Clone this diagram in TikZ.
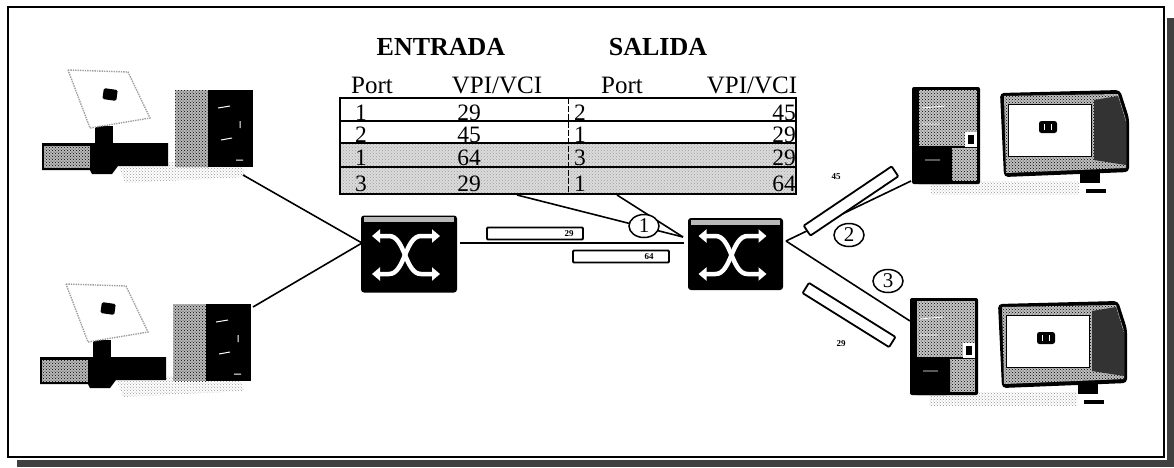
\documentclass[tikz,border=0pt]{standalone}
\usepackage{fontspec}
\setmainfont{Liberation Serif}
\usetikzlibrary{patterns,arrows.meta,shapes.geometric}

% flat-panel workstation with tower on its right
\newcommand{\flatpc}[2]{%
\begin{scope}[shift={(#1,#2)}]
  \fill[pattern=crosshatch dots, pattern color=gray!80] (118,164) -- (240,160) -- (246,177) -- (125,183) -- cycle;
  \fill[black] (42,143) -- (168,143) -- (168,166) -- (118,166) -- (112,174) -- (92,174) -- (90,170) -- (42,170) -- cycle;
  \fill[gray!55] (44,146) rectangle (90,168);
  \fill[pattern=crosshatch dots, pattern color=black] (44,146) rectangle (90,168);
  \fill[black] (95,126) rectangle (113,145);
  \filldraw[fill=white, draw=gray!75, line width=1.4, densely dotted] (68,70) -- (128,72) -- (150,118) -- (90,128) -- cycle;
  \fill[black, rotate around={-8:(110,95)}, rounded corners=1.5] (103,89) rectangle (117,100);
  \fill[gray!55] (175,90) rectangle (208,167);
  \fill[pattern=crosshatch dots, pattern color=black] (175,90) rectangle (208,167);
  \fill[black] (208,90) rectangle (253,167);
  \draw[white, line width=1] (218,108) -- (230,106) (221,140) -- (232,138) (236,160) -- (243,160) (240,121) -- (240,128);
\end{scope}}

% tower on the left, CRT monitor on the right
\newcommand{\crtpc}[2]{%
\begin{scope}[shift={(#1,#2)}]
  \fill[pattern=crosshatch dots, pattern color=gray!85] (931,181) rectangle (1079,194);
  \fill[black] (1080,170) rectangle (1100,183);
  \fill[black] (1086,189) rectangle (1106,193);
  % tower
  \fill[black, rounded corners=2] (912,87) rectangle (980,184);
  \fill[gray!45] (919,90) rectangle (977,146);
  \fill[pattern=crosshatch dots, pattern color=black] (919,90) rectangle (977,146);
  \fill[gray!45] (950,148) rectangle (977,181);
  \fill[pattern=crosshatch dots, pattern color=black] (950,148) rectangle (977,181);
  \fill[black, rounded corners=3] (916,146) rectangle (952,184);
  \fill[white] (965,132) rectangle (977,147);
  \fill[black] (968,135) rectangle (974,144);
  \draw[white, line width=0.8] (922,108) -- (945,106) (922,124) -- (940,124) (925,160) -- (940,160);
  % monitor
  \fill[black, rounded corners=4] (1000,93) -- (1120,90) -- (1129,118) -- (1129,172) -- (1004,177) -- cycle;
  \fill[gray!50] (1004,96) -- (1118,94) -- (1126,120) -- (1126,168) -- (1006,173) -- cycle;
  \fill[pattern=crosshatch dots, pattern color=black] (1004,96) -- (1118,94) -- (1126,120) -- (1126,168) -- (1006,173) -- cycle;
  \fill[black!80] (1094,100) -- (1118,96) -- (1126,122) -- (1126,165) -- (1094,160) -- cycle;
  \filldraw[fill=white, draw=black, line width=1] (1008,104) rectangle (1091,156);
  \fill[black, rounded corners=2.5] (1039,121) rectangle (1057,133);
  \draw[white, line width=1] (1044,124) -- (1044,130) (1051,124) -- (1051,130);
\end{scope}}

% crossing arrows of a cell switch
\newcommand{\xarrows}[1]{%
\begin{scope}[shift={(#1.center)}]
  \fill[gray!55] ([shift={(3,2)}]#1.north west) rectangle ([shift={(-3,7)}]#1.north east);
  \draw[swarrow] (-37,-18) -- (-20,-18) .. controls (-4,-18) and (-4,20) .. (12,20) -- (31,20);
  \draw[swarrow] (-37,20) -- (-20,20) .. controls (-4,20) and (-4,-18) .. (12,-18) -- (31,-18);
\end{scope}}

\tikzset{
  frame/.style={line width=2.4pt},
  tblline/.style={line width=2.6pt},
  hdr/.style={font=\fontsize{25}{25}\selectfont, anchor=base, inner sep=0pt},
  ttl/.style={font=\fontsize{26}{26}\selectfont\bfseries, anchor=base, inner sep=0pt},
  num/.style={font=\fontsize{23.5}{24}\selectfont, anchor=base, inner sep=0pt},
  switchbox/.style={fill=black, rounded corners=3pt, inner sep=0pt},
  swarrow/.style={white, line width=4.5pt, {Triangle[length=8pt,width=13pt]}-{Triangle[length=8pt,width=13pt]}},
  link/.style={line width=1.6pt},
  cellbox/.style={draw, fill=white, line width=1.8pt, minimum width=96pt, minimum height=12pt, inner sep=0pt, rounded corners=1pt},
  tag/.style={font=\fontsize{9}{9}\selectfont\bfseries, inner sep=0pt},
  portmark/.style={ellipse, draw, fill=white, line width=1.5pt, minimum width=30pt, minimum height=23pt, inner sep=0pt, font=\fontsize{21}{21}\selectfont},
}

\begin{document}
\begin{tikzpicture}[x=1pt,y=-1pt]
\useasboundingbox (0,0) rectangle (1174,467);
\fill[white] (0,0) rectangle (1174,467);

% scanned page edge
\fill[black!75] (1167,18) rectangle (1174,467);
\fill[black!75] (17,460) rectangle (1174,467);
\draw[frame] (8,7) rectangle (1164,457);

% workstations
\flatpc{0}{0}
\flatpc{-2}{214}
\crtpc{0}{0}
\crtpc{-2}{211}

% routing table
\node[ttl] (tEnt) at (441,55) {ENTRADA};
\node[ttl] (tSal) at (658,55) {SALIDA};
\node[hdr] (hPort1) at (372,93) {Port};
\node[hdr] (hVpi1) at (497,93) {VPI/VCI};
\node[hdr] (hPort2) at (622,93) {Port};
\node[hdr] (hVpi2) at (752,93) {VPI/VCI};

\fill[gray!28] (340,143) rectangle (796,194);
\fill[pattern=crosshatch dots, pattern color=gray!75] (340,143) rectangle (796,194);
\draw[line width=1.6pt] (340,121) -- (796,121);
\draw[tblline] (340,143) -- (796,143) (340,167) -- (796,167);
\draw[tblline] (340,98) rectangle (796,194);
\draw[line width=1pt, dash pattern=on 6pt off 2pt] (568,98) -- (568,194);

\foreach \r/\pa/\va/\pb/\vb/\y in {1/1/29/2/45/120, 2/2/45/1/29/142, 3/1/64/3/29/165, 4/3/29/1/64/191}{
  \node[num] (pa\r) at (361,\y) {\pa};
  \node[num] (va\r) at (469,\y) {\va};
  \node[num] (pb\r) at (580,\y) {\pb};
  \node[num] (vb\r) at (784,\y) {\vb};
}

% switches
\node[switchbox, minimum width=96pt, minimum height=77pt] (swL) at (409,254) {};
\node[switchbox, minimum width=95pt, minimum height=72pt] (swR) at (735.5,254) {};
\xarrows{swL}
\xarrows{swR}

% attachment points
\coordinate (pcTL) at (243,175);
\coordinate (pcBL) at (253,307);
\coordinate (pcTR) at (911,181);
\coordinate (pcBR) at (910,321);
\coordinate (swLin) at (362,243);
\coordinate (swLout) at (460,243);
\coordinate (swRin) at (684,243);
\coordinate (swRtap) at (683,237);
\coordinate (swRout) at (786,241);
\coordinate (tabA) at (517,195);
\coordinate (tabB) at (617,195);

% links
\draw[link] (pcTL) -- (swLin);
\draw[link] (pcBL) -- (swLin);
\draw[link] (swLout) -- (swRin);
\draw[link] (tabA) -- (swRtap);
\draw[link] (tabB) -- (swRtap);
\draw[link] (swRout) -- (pcTR);
\draw[link] (swRout) -- (pcBR);

% cells in transit
\node[cellbox] (c29) at (535,233.5) {};
\node[tag, anchor=east] (l29) at ([xshift=-10pt]c29.east) {29};
\node[cellbox] (c64) at (621,256.5) {};
\node[tag, anchor=east] (l64) at ([xshift=-16pt]c64.east) {64};
\node[cellbox, minimum width=106pt, rotate=34] (c45) at (851,201) {};
\node[tag] (l45) at (836,177) {45};
\node[cellbox, minimum width=102pt, rotate=-32] (c29b) at (849,315) {};
\node[tag] (l29b) at (841,344) {29};

% port markers
\node[portmark] (p1) at (644,226) {1};
\node[portmark] (p2) at (849,235) {2};
\node[portmark] (p3) at (888,281) {3};
\end{tikzpicture}
\end{document}
